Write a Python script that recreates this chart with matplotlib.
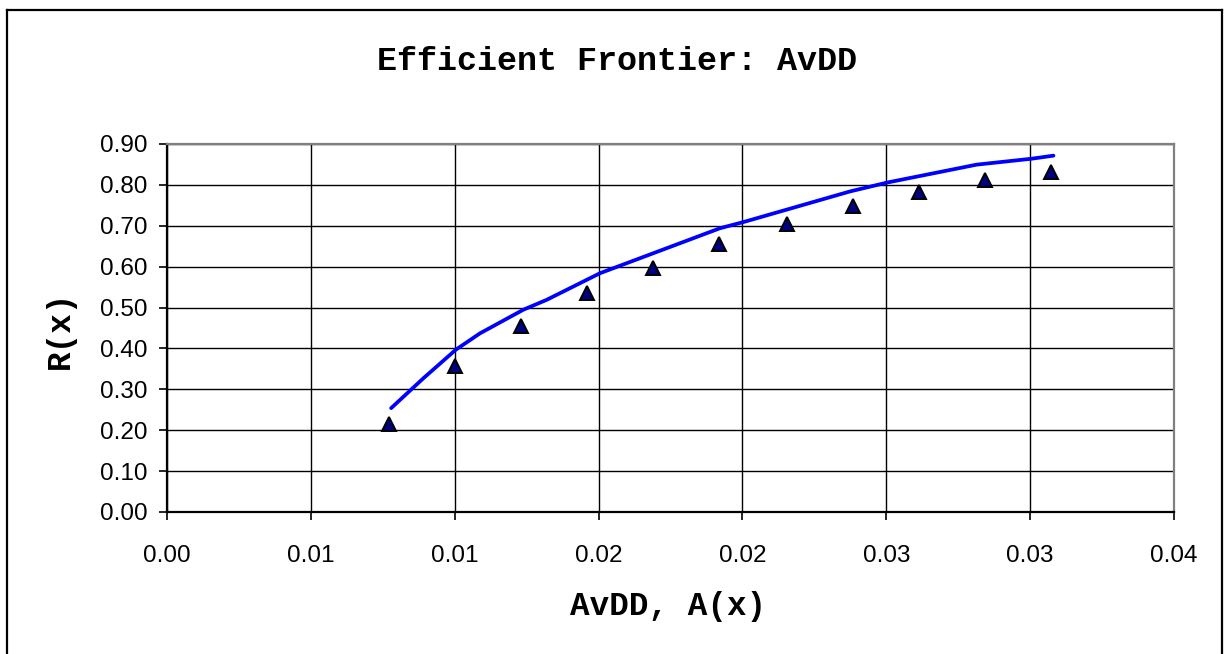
import matplotlib
matplotlib.use("Agg")
import matplotlib.pyplot as plt
from matplotlib.lines import Line2D

# ---- data ----
tri_x = [0.00772, 0.01001, 0.01230, 0.01460, 0.01688, 0.01919,
         0.02155, 0.02383, 0.02613, 0.02843, 0.03072]
tri_y = [0.2154, 0.357, 0.455, 0.536, 0.5966, 0.656,
         0.704, 0.749, 0.7826, 0.8127, 0.8315]

line_x = [0.00779, 0.00891, 0.01004, 0.01088, 0.01238, 0.0132, 0.01505,
          0.01922, 0.02003, 0.02374, 0.02505, 0.02814, 0.03005, 0.03081]
line_y = [0.254, 0.327, 0.397, 0.437, 0.4945, 0.519, 0.584,
          0.694, 0.709, 0.784, 0.806, 0.8495, 0.864, 0.8715]

x_ticks = [0.0, 0.005, 0.010, 0.015, 0.020, 0.025, 0.030, 0.035]
x_tick_labels = ["0.00", "0.01", "0.01", "0.02", "0.02", "0.03", "0.03", "0.04"]
y_ticks = [0.0, 0.1, 0.2, 0.3, 0.4, 0.5, 0.6, 0.7, 0.8, 0.9]
y_tick_labels = ["0.00", "0.10", "0.20", "0.30", "0.40", "0.50",
                 "0.60", "0.70", "0.80", "0.90"]

title = "Efficient Frontier: AvDD"
xlabel = "AvDD, A(x)"
ylabel = "R(x)"

# ---- figure ----
W, H = 1230, 654
fig = plt.figure(figsize=(W / 100, H / 100), dpi=100)
fig.patch.set_facecolor("white")

L, R, T, B = 167, 1174, 144, 512
ax = fig.add_axes([L / W, 1 - B / H, (R - L) / W, (B - T) / H])
ax.set_facecolor("white")

ax.set_xlim(0, 0.035)
ax.set_ylim(0, 0.9)
ax.set_xticks(x_ticks)
ax.set_xticklabels(x_tick_labels)
ax.set_yticks(y_ticks)
ax.set_yticklabels(y_tick_labels)

ax.grid(True, color="black", linewidth=1.0, zorder=0)
ax.set_axisbelow(True)

for s in ["left", "bottom"]:
    ax.spines[s].set_color("black")
    ax.spines[s].set_linewidth(1.6)
for s in ["top", "right"]:
    ax.spines[s].set_color("#808080")
    ax.spines[s].set_linewidth(1.6)

ax.tick_params(axis="both", direction="out", length=5.8, width=1.2,
               color="black")
ax.tick_params(axis="y", pad=8)
ax.tick_params(axis="x", pad=18)
for lab in ax.get_xticklabels() + ax.get_yticklabels():
    lab.set_fontfamily("Liberation Sans")
    lab.set_fontsize(17.5)

ax.plot(line_x, line_y, color="#0000FF", linewidth=2.7, zorder=3,
        solid_capstyle="round")
ax.plot(tri_x, tri_y, linestyle="none", marker="^", markersize=10,
        markerfacecolor="#000080", markeredgecolor="black",
        markeredgewidth=1.4, zorder=4)

lab_font = dict(family="Liberation Mono", weight="bold", size=23.5)
ax.set_xlabel(xlabel, **lab_font)
ax.set_ylabel(ylabel, **lab_font)
ax.xaxis.set_label_coords((668 - L) / (R - L), (B - 607) / (B - T))
ax.yaxis.set_label_coords((60 - L) / (R - L), (B - 330) / (B - T))
ax.xaxis.label.set_va("center")
ax.yaxis.label.set_va("center")

fig.text(617 / W, 1 - 61 / H, title, ha="center", va="center",
         family="Liberation Mono", weight="bold", size=24)

# outer chart frame (bottom edge lies outside the image)
fx0, fx1, fy0 = 7 / W, 1222 / W, 1 - 10 / H
for xs, ys in [([fx0, fx0], [-0.05, fy0]), ([fx0, fx1], [fy0, fy0]),
               ([fx1, fx1], [fy0, -0.05])]:
    fig.add_artist(Line2D(xs, ys, transform=fig.transFigure,
                          color="black", linewidth=1.6))

fig.savefig("out.png", dpi=100)
